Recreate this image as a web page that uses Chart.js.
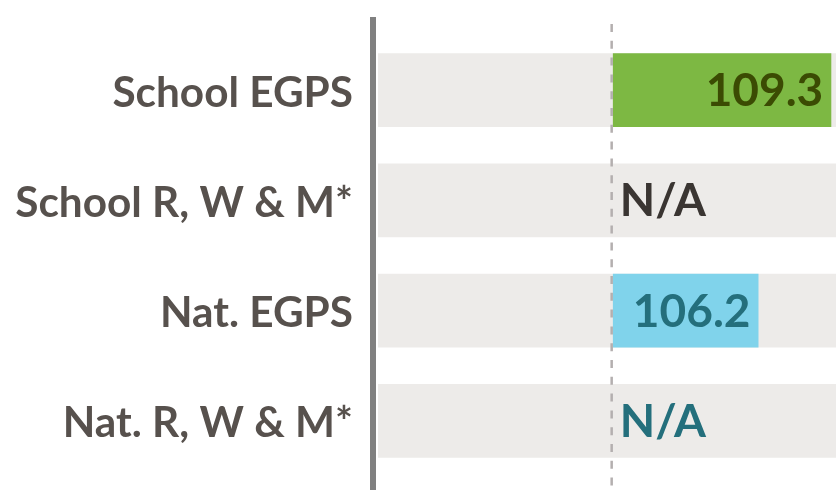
<!DOCTYPE html>
<html><head><meta charset="utf-8">
<script src="https://cdn.jsdelivr.net/npm/chart.js@4"></script>
<style>html,body{margin:0;padding:0;background:#fff;} #wrap{width:836px;height:490px;position:relative;}</style>
</head><body><div id="wrap"><canvas id="c"></canvas></div>
<script>
const categories = ["School EGPS", "School R, W & M*", "Nat. EGPS", "Nat. R, W & M*"];
const values = [109.3, null, 106.2, null];
const baseline = 100;
const axisMin = 90;
const axisMax = 109.5;
const naLabel = "N/A";
const barColors = ["#7db843", "#7db843", "#80d3eb", "#80d3eb"];
const valueTextColors = ["#3b4b03", "#3a3532", "#246f7c", "#246f7c"];

const FONT = "Lato";
const LABEL_SIZE = 42.3;
const VALUE_SIZE = 46;

const refLines = {
  id: 'refLines',
  afterDatasetsDraw(chart) {
    const ctx = chart.ctx;
    const xs = chart.scales.x;
    ctx.save();
    const bx = xs.getPixelForValue(baseline) - 1.2;
    ctx.strokeStyle = '#b4afaf';
    ctx.lineWidth = 2.5;
    ctx.setLineDash([8, 8.8]);
    ctx.beginPath();
    ctx.moveTo(bx, 24);
    ctx.lineTo(bx, 490);
    ctx.stroke();
    ctx.setLineDash([]);
    ctx.strokeStyle = '#808080';
    ctx.lineWidth = 6;
    ctx.beginPath();
    ctx.moveTo(373, 17);
    ctx.lineTo(373, 490);
    ctx.stroke();
    ctx.restore();
  }
};

const textLabels = {
  id: 'textLabels',
  afterDraw(chart) {
    const ctx = chart.ctx;
    const xs = chart.scales.x, ys = chart.scales.y;
    ctx.save();
    ctx.textBaseline = 'alphabetic';
    // category labels
    ctx.font = `bold ${LABEL_SIZE}px ${FONT}`;
    ctx.fillStyle = '#57514d';
    ctx.textAlign = 'right';
    categories.forEach((c, i) => {
      ctx.fillText(c, xs.left - 25, ys.getPixelForValue(i) + 16.5);
    });
    // value labels
    ctx.font = `bold ${VALUE_SIZE}px ${FONT}`;
    values.forEach((v, i) => {
      const y = ys.getPixelForValue(i) + 16;
      ctx.fillStyle = valueTextColors[i];
      if (v == null) {
        ctx.textAlign = 'left';
        ctx.fillText(naLabel, xs.getPixelForValue(baseline) + 7, y);
      } else {
        ctx.textAlign = 'right';
        ctx.fillText(v.toFixed(1), xs.getPixelForValue(v) - 8, y);
      }
    });
    ctx.restore();
  }
};

new Chart(document.getElementById('c'), {
  type: 'bar',
  data: {
    labels: categories,
    datasets: [
      {
        label: 'value',
        data: values.map(v => v == null ? null : [baseline, v]),
        backgroundColor: barColors,
        borderWidth: 0,
        borderSkipped: false,
        grouped: false,
        order: 1,
        barPercentage: 0.67,
        categoryPercentage: 1
      },
      {
        label: 'track',
        data: categories.map(() => [axisMin, axisMax]),
        backgroundColor: '#edebe9',
        borderWidth: 0,
        borderSkipped: false,
        grouped: false,
        order: 2,
        barPercentage: 0.67,
        categoryPercentage: 1
      }
    ]
  },
  options: {
    indexAxis: 'y',
    responsive: true,
    maintainAspectRatio: false,
    animation: false,
    layout: { padding: { top: 35, bottom: 14, left: 0, right: 0 } },
    plugins: { legend: { display: false }, tooltip: { enabled: false } },
    scales: {
      x: { type: 'linear', min: axisMin, max: axisMax, display: false },
      y: {
        grid: { display: false, drawTicks: false },
        border: { display: false },
        ticks: { display: false },
        afterFit(s) { s.width = 378; }
      }
    }
  },
  plugins: [refLines, textLabels]
});
</script>
</body></html>
